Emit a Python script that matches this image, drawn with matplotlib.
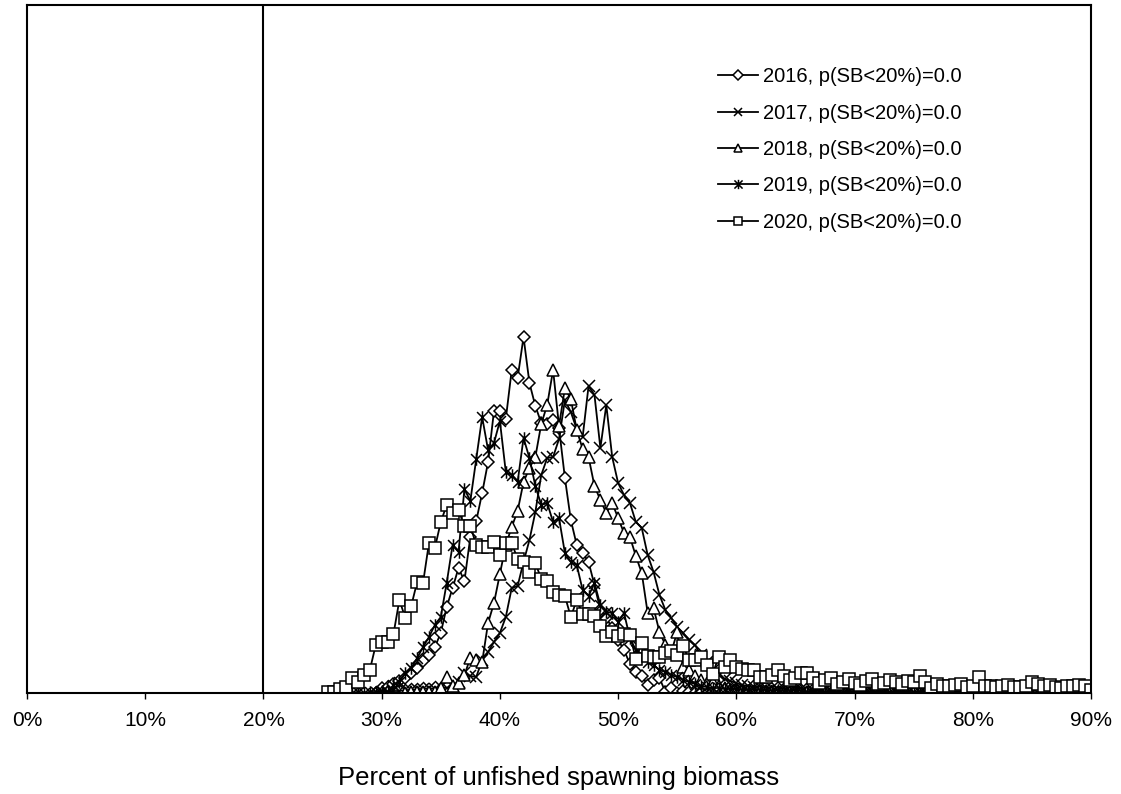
import numpy as np
import matplotlib
matplotlib.use("Agg")
import matplotlib.pyplot as plt
from matplotlib.path import Path
from matplotlib.ticker import PercentFormatter

plt.rcParams['font.family'] = ['Liberation Sans', 'DejaVu Sans']

# Projected spawning biomass, relative frequency per 0.5% bin
BIN_WIDTH = 0.5

start_2016 = 29.5
freq_2016 = [0, 5, 6, 9, 12, 15, 20, 25, 32, 38,
             46, 60, 86, 105, 125, 112, 156, 172, 200, 231,
             282, 282, 274, 323, 315, 356, 310, 287, 270, 269,
             273, 265, 215, 173, 148, 140, 131, 108, 83, 75,
             65, 53, 43, 29, 21, 17, 8, 13, 15, 1,
             5, 0, 2, 1, 0, 1, 0, 1, 0, 0,
             1, 0]

start_2017 = 30.0
freq_2017 = [1, 1, 2, 2, 3, 3, 4, 4, 5, 4,
             6, 5, 7, 11, 20, 17, 16, 33, 41, 51,
             60, 76, 105, 107, 131, 153, 181, 218, 235, 236,
             254, 293, 281, 264, 256, 307, 298, 245, 288, 236,
             210, 198, 190, 171, 165, 138, 121, 98, 83, 75,
             66, 60, 53, 48, 38, 31, 23, 18, 14, 12,
             10,
             8, 7, 6, 6, 5, 5, 4, 5, 3, 4,
             4, 3, 3, 2, 3, 2, 3, 2, 2, 1,
             2, 2, 1, 2, 1, 1, 2, 1, 1, 1,
             1, 1, 0, 1, 1, 0, 1, 1, 0, 1,
             1, 0, 1, 0, 1, 1, 0, 1, 0, 1,
             0, 1, 0, 1, 0, 0, 1, 0, 1, 1]

start_2018 = 32.0
freq_2018 = [0, 1, 1, 1, 1, 1, 5, 16, 7, 10,
             18, 35, 33, 31, 70, 90, 119, 148, 166, 182,
             211, 225, 236, 269, 288, 323, 267, 305, 294, 263,
             244, 236, 207, 193, 180, 190, 175, 160, 156, 137,
             120, 80, 85, 61, 48, 41, 61, 26, 23, 17,
             13, 10, 11, 7, 5, 3, 2,
             2, 2, 1, 2, 1, 1, 1, 0, 1, 1,
             0, 1, 0, 0, 1, 0, 0, 1, 0, 0]

start_2019 = 27.5
freq_2019 = [0, 1, 0, 1, 1, 2, 1, 8, 11, 20,
             25, 35, 46, 56, 68, 76, 110, 148, 141, 204,
             192, 234, 276, 243, 250, 272, 221, 218, 211, 255,
             235, 207, 188, 190, 171, 175, 140, 131, 128, 103,
             97, 110, 88, 81, 80, 71, 80, 55, 43, 38,
             31, 28, 23, 21, 18, 16, 13, 11, 9, 7,
             6, 5, 5, 4, 4, 4, 3, 3, 4, 3,
             3, 2, 3, 2, 2, 3, 2, 1, 2, 2,
             1, 2, 1, 1, 2, 1, 1, 1, 2, 1,
             1, 0, 1, 1, 1, 0, 1, 1, 0, 1,
             1, 1, 0, 1, 0, 1, 1, 0, 1, 0,
             1, 0, 1, 1, 0, 1, 0, 0, 1, 0,
             1, 0, 1, 0, 1, 1]

start_2020 = 25.5
freq_2020 = [1, 1, 4, 6, 15, 11, 18, 23, 48, 51,
             51, 59, 93, 75, 87, 111, 110, 150, 145, 171,
             188, 180, 183, 167, 167, 148, 146, 146, 151, 138,
             150, 150, 134, 131, 121, 130, 114, 112, 101, 98,
             97, 76, 93, 79, 79, 77, 67, 57, 61, 57,
             59, 58, 34, 50, 37, 36, 36, 40, 42, 38,
             47, 33, 33, 36, 28, 19, 36, 26, 33, 26,
             24, 23, 23, 16, 16, 18, 23, 17, 13, 15,
             20, 20, 15, 10, 13, 15, 9, 11, 14, 10,
             8, 12, 14, 9, 10, 13, 11, 9, 12, 11,
             17, 11, 5, 9, 7, 7, 8, 9, 6, 7,
             16, 7, 7, 6, 7, 8, 6, 6, 7, 11,
             9, 7, 8, 6, 5, 7, 7, 8, 7, 3]

years = ["2016", "2017", "2018", "2019", "2020"]
p_below_20 = [0.0, 0.0, 0.0, 0.0, 0.0]
starts = [start_2016, start_2017, start_2018, start_2019, start_2020]
freqs = [freq_2016, freq_2017, freq_2018, freq_2019, freq_2020]

x_ticks = [0, 10, 20, 30, 40, 50, 60, 70, 80, 90]
limit_ref = 20

# Excel-style star: an x crossed by a vertical stroke
star = Path([(-1, -1), (1, 1), (-1, 1), (1, -1), (0, -1.15), (0, 1.15)],
            [Path.MOVETO, Path.LINETO, Path.MOVETO, Path.LINETO,
             Path.MOVETO, Path.LINETO])

styles = [
    dict(marker='D', ms=6.5),
    dict(marker='x', ms=8.5),
    dict(marker='^', ms=8.5),
    dict(marker=star, ms=9),
    dict(marker='s', ms=8),
]

fig = plt.figure(figsize=(11.21, 7.94), dpi=100)
ax = fig.add_axes([27 / 1121, 1 - 693 / 794, (1091 - 27) / 1121, (693 - 5) / 794])

for yr, p, st, fr, sty in zip(years, p_below_20, starts, freqs, styles):
    x = st + BIN_WIDTH * np.arange(len(fr))
    ax.plot(x, fr, color='black', lw=1.3, mfc='white', mec='black', mew=1.1,
            label=f"{yr}, p(SB<20%)={p:.1f}", **sty)

ax.axvline(limit_ref, color='black', lw=1.5)

ax.set_xlim(0, 90)
ax.set_ylim(0, 688)
ax.set_xticks(x_ticks)
ax.xaxis.set_major_formatter(PercentFormatter(xmax=100, decimals=0))
ax.set_yticks([])
ax.tick_params(axis='x', direction='out', length=4, width=1, labelsize=15, pad=9)
for s in ax.spines.values():
    s.set_linewidth(1.5)

ax.set_xlabel("Percent of unfished spawning biomass", fontsize=18.5, labelpad=26)

ax.legend(loc='upper left', bbox_to_anchor=(728 / 1121, 1 - 72 / 794),
          frameon=False, fontsize=14.5, handlelength=2.0, handletextpad=0.25,
          labelspacing=0.86, borderpad=0, borderaxespad=0, markerscale=0.75)

fig.savefig("out.png", dpi=100)
